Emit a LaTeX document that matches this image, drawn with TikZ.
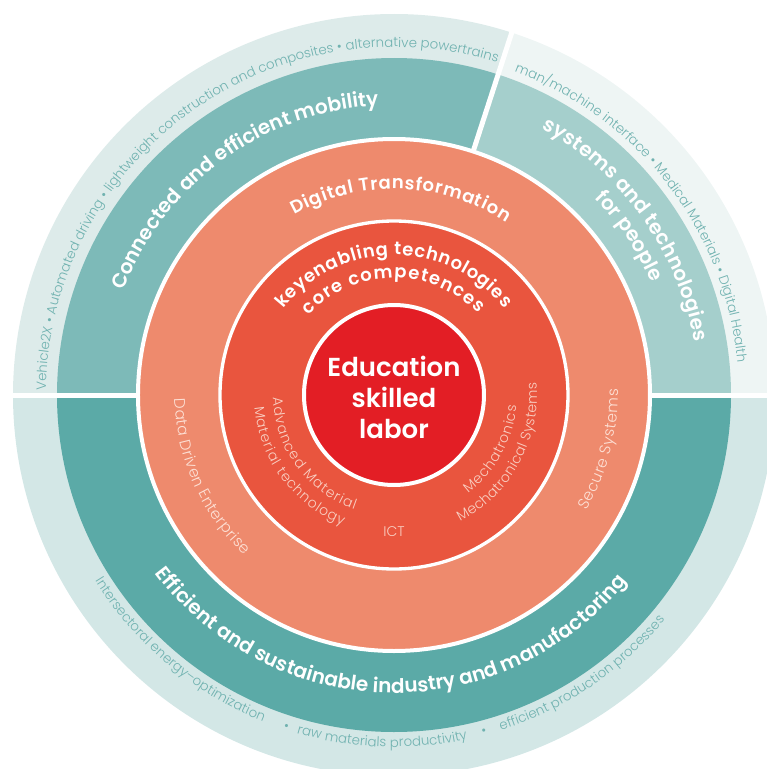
\documentclass[tikz,border=0pt]{standalone}
\usepackage{fontspec}
\setmainfont{Poppins}[BoldFont={Poppins SemiBold}]
\newfontfamily\thinfont{Poppins Light}
\usetikzlibrary{decorations.text}

\definecolor{paleleft}{HTML}{DDEBEA}
\definecolor{paleright}{HTML}{EEF5F4}
\definecolor{palebottom}{HTML}{D3E7E6}
\definecolor{tealleft}{HTML}{7DBAB8}
\definecolor{tealright}{HTML}{A5CFCC}
\definecolor{tealbottom}{HTML}{5BAAA7}
\definecolor{salmon}{HTML}{EE8A6D}
\definecolor{redorange}{HTML}{E9553E}
\definecolor{corered}{HTML}{E31E25}
\definecolor{outertxt}{HTML}{70B2B0}
\definecolor{salmontxt}{HTML}{FDE0D5}
\definecolor{redtxt}{HTML}{F9CFC2}

\newcommand\outerfont{\fontsize{10}{12}\selectfont\thinfont\color{outertxt}}
\newcommand\ringfont{\fontsize{15}{18}\selectfont\bfseries\color{white}}
\newcommand\midfont{\fontsize{13.5}{16}\selectfont\bfseries\color{white}}
\newcommand\salmonfont{\fontsize{11.5}{13}\selectfont\thinfont\color{salmontxt}}
\newcommand\keyfont{\fontsize{10.5}{12}\selectfont\thinfont\color{redtxt}}

\tikzset{every picture/.style={line width=0.75pt}}

\begin{document}
\begin{tikzpicture}[x=0.75pt,y=0.75pt,
    curved/.style={decorate,decoration={text along path,text align=center,text={#1}}},
    fitted/.style={decorate,decoration={text along path,text align=fit to path,text={#1}}}]
    \useasboundingbox (-394,-374) rectangle (373,395);
    \clip (-394,-374) rectangle (373,395);
    %Outer sectors
    \fill[paleleft] (0,0) -- (72:381) arc[start angle=72, end angle=180, radius=381] -- cycle;
    \fill[paleright] (0,0) -- (0:381) arc[start angle=0, end angle=72, radius=381] -- cycle;
    \fill[palebottom] (0,0) -- (180:381) arc[start angle=180, end angle=360, radius=381] -- cycle;
    %Teal sectors
    \fill[tealleft] (0,0) -- (72:337) arc[start angle=72, end angle=180, radius=337] -- cycle;
    \fill[tealright] (0,0) -- (0:337) arc[start angle=0, end angle=72, radius=337] -- cycle;
    \fill[tealbottom] (0,0) -- (180:337) arc[start angle=180, end angle=360, radius=337] -- cycle;
    %Separators
    \draw[white, line width=3.75pt] (180:395) -- (0:395);
    \draw[white, line width=3.75pt] (72:250) -- (72:395);
    %Rings
    \draw[white, line width=3pt, fill=salmon] (0,0) circle[radius=256];
    \draw[white, line width=2.5pt, fill=redorange] (0,0) circle[radius=174];
    \draw[white, line width=3pt, fill=corered] (0,0) circle[radius=90];

    %Outer texts
    \path[curved={|\outerfont|Vehicle2X • Automated driving • lightweight construction and composites • alternative powertrains}] (196:348) arc[start angle=196, end angle=56, radius=348];
    \path[curved={|\outerfont|man/machine interface • Medical Materials • Digital Health}] (88:345) arc[start angle=88, end angle=-13, radius=345];
    \path[curved={|\outerfont|Intersectoral energy–optimization}] (200:352) arc[start angle=200, end angle=260, radius=352];
    \path[curved={|\outerfont|•}] (247:352) arc[start angle=247, end angle=257, radius=352];
    \path[curved={|\outerfont|raw materials productivity}] (238:352) arc[start angle=238, end angle=298, radius=352];
    \path[curved={|\outerfont|•}] (280:352) arc[start angle=280, end angle=290, radius=352];
    \path[curved={|\outerfont|efficient production processes}] (274:352) arc[start angle=274, end angle=334, radius=352];

    %Teal texts
    \path[curved={|\ringfont|Connected and efficient mobility}] (196:290) arc[start angle=196, end angle=56, radius=290];
    \path[fitted={|\ringfont|systems and technologies}] (61:305) arc[start angle=61, end angle=10, radius=305];
    \path[curved={|\ringfont|for people}] (84:281) arc[start angle=84, end angle=-16, radius=281];
    \path[curved={|\ringfont|Efficient and sustainable industry and manufactoring}] (189:298) arc[start angle=189, end angle=349, radius=298];

    %Salmon texts
    \path[fitted={|\midfont|Digital Transformation}] (119:206) arc[start angle=119, end angle=57, radius=206];
    \path[fitted={|\salmonfont|Data Driven Enterprise}] (181:219) arc[start angle=181, end angle=227, radius=219];
    \path[fitted={|\salmonfont|Secure Systems}] (-31:224) arc[start angle=-31, end angle=1.5, radius=224];

    %Key texts
    \path[fitted={|\midfont|keyenabling technologies}] (142:140) arc[start angle=142, end angle=38, radius=140];
    \path[fitted={|\midfont|core competences}] (137:117) arc[start angle=137, end angle=44, radius=117];
    \path[fitted={|\keyfont|Advanced Material}] (181:121) arc[start angle=181, end angle=251, radius=121];
    \path[fitted={|\keyfont|Material technology}] (185:140) arc[start angle=185, end angle=248.5, radius=140];
    \path[fitted={|\keyfont|Mechatronics}] (-53:123) arc[start angle=-53, end angle=-5, radius=123];
    \path[fitted={|\keyfont|Mechatronical Systems}] (-62.5:143) arc[start angle=-62.5, end angle=5, radius=143];
    \node[font=\fontsize{10.5}{12}\selectfont\thinfont, text=redtxt] (ict) at (0,-137) {ICT};

    %Core
    \node[font=\fontsize{19.5}{23.25}\selectfont\bfseries, text=white, align=center] (core) at (0,-2) {Education\\skilled\\labor};
\end{tikzpicture}
\end{document}
